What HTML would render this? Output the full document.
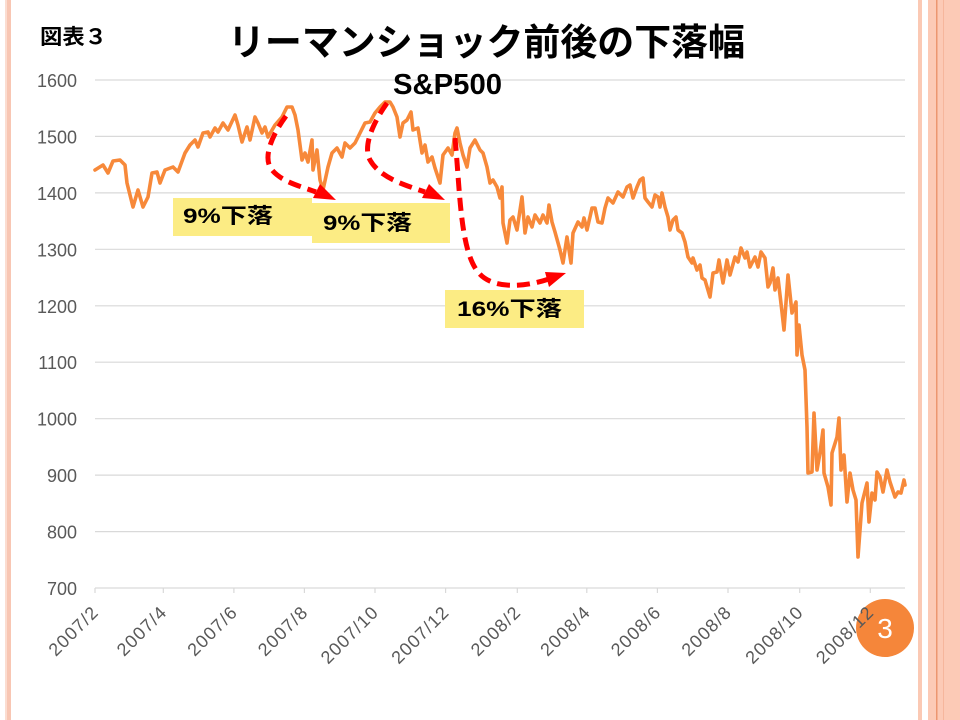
<!DOCTYPE html>
<html>
<head>
<meta charset="utf-8">
<style>
html,body{margin:0;padding:0;background:#fff;}
svg{display:block;}
</style>
</head>
<body>
<svg width="960" height="720" viewBox="0 0 960 720" xmlns="http://www.w3.org/2000/svg">
<rect x="0" y="0" width="960" height="720" fill="#ffffff"/>
<!-- left border -->
<rect x="5" y="0" width="2" height="720" fill="#FBDDD1"/>
<rect x="7" y="0" width="4" height="720" fill="#F8C6B3"/>
<!-- right decoration -->
<rect x="918" y="0" width="4" height="720" fill="#FBC9B4"/>
<rect x="928" y="0" width="32" height="720" fill="#FCCAB6"/>
<rect x="936" y="0" width="1.5" height="720" fill="#EC9670"/>
<rect x="943" y="0" width="1" height="720" fill="#F6B69C"/>

<!-- titles -->
<text x="40" y="44" font-family="'Liberation Sans','Noto Sans CJK JP',sans-serif" font-size="21" font-weight="bold" fill="#000" textLength="67" lengthAdjust="spacingAndGlyphs">図表３</text>
<text x="228" y="55" font-family="'Liberation Sans','Noto Sans CJK JP',sans-serif" font-size="37" font-weight="bold" fill="#000" textLength="517" lengthAdjust="spacingAndGlyphs">リーマンショック前後の下落幅</text>

<!-- grid -->
<g stroke="#D9D9D9" stroke-width="1.2">
<line x1="95" y1="80" x2="905" y2="80"/>
<line x1="95" y1="136.4" x2="905" y2="136.4"/>
<line x1="95" y1="192.9" x2="905" y2="192.9"/>
<line x1="95" y1="249.3" x2="905" y2="249.3"/>
<line x1="95" y1="305.8" x2="905" y2="305.8"/>
<line x1="95" y1="362.2" x2="905" y2="362.2"/>
<line x1="95" y1="418.7" x2="905" y2="418.7"/>
<line x1="95" y1="475.1" x2="905" y2="475.1"/>
<line x1="95" y1="531.6" x2="905" y2="531.6"/>
<line x1="95" y1="588" x2="905" y2="588"/>
<line x1="95" y1="588" x2="95" y2="593"/>
<line x1="163.3" y1="588" x2="163.3" y2="593"/>
<line x1="233.9" y1="588" x2="233.9" y2="593"/>
<line x1="304.4" y1="588" x2="304.4" y2="593"/>
<line x1="375" y1="588" x2="375" y2="593"/>
<line x1="445.6" y1="588" x2="445.6" y2="593"/>
<line x1="517.3" y1="588" x2="517.3" y2="593"/>
<line x1="586.8" y1="588" x2="586.8" y2="593"/>
<line x1="657.4" y1="588" x2="657.4" y2="593"/>
<line x1="728" y1="588" x2="728" y2="593"/>
<line x1="799.7" y1="588" x2="799.7" y2="593"/>
<line x1="870.3" y1="588" x2="870.3" y2="593"/>
</g>

<!-- page number (under labels) -->
<circle cx="885" cy="628" r="29" fill="#F5863A"/>
<text x="885" y="638" text-anchor="middle" font-family="'Liberation Sans',sans-serif" font-size="28" fill="#ffffff">3</text>

<!-- y labels -->
<g font-family="'Liberation Sans',sans-serif" font-size="18" fill="#595959" text-anchor="end">
<text x="77" y="87">1600</text>
<text x="77" y="143.4">1500</text>
<text x="77" y="199.9">1400</text>
<text x="77" y="256.3">1300</text>
<text x="77" y="312.8">1200</text>
<text x="77" y="369.2">1100</text>
<text x="77" y="425.7">1000</text>
<text x="77" y="482.1">900</text>
<text x="77" y="538.6">800</text>
<text x="77" y="595">700</text>
</g>

<!-- x labels -->
<g font-family="'Liberation Sans',sans-serif" font-size="18" fill="#595959" text-anchor="end">
<text transform="translate(99,614) rotate(-45)" textLength="61" lengthAdjust="spacing">2007/2</text>
<text transform="translate(167.3,614) rotate(-45)" textLength="61" lengthAdjust="spacing">2007/4</text>
<text transform="translate(237.9,614) rotate(-45)" textLength="61" lengthAdjust="spacing">2007/6</text>
<text transform="translate(308.4,614) rotate(-45)" textLength="61" lengthAdjust="spacing">2007/8</text>
<text transform="translate(379,614) rotate(-45)" textLength="72" lengthAdjust="spacing">2007/10</text>
<text transform="translate(449.6,614) rotate(-45)" textLength="72" lengthAdjust="spacing">2007/12</text>
<text transform="translate(521.3,614) rotate(-45)" textLength="61" lengthAdjust="spacing">2008/2</text>
<text transform="translate(590.8,614) rotate(-45)" textLength="61" lengthAdjust="spacing">2008/4</text>
<text transform="translate(661.4,614) rotate(-45)" textLength="61" lengthAdjust="spacing">2008/6</text>
<text transform="translate(732,614) rotate(-45)" textLength="61" lengthAdjust="spacing">2008/8</text>
<text transform="translate(803.7,614) rotate(-45)" textLength="72" lengthAdjust="spacing">2008/10</text>
<text transform="translate(874.3,614) rotate(-45)" textLength="72" lengthAdjust="spacing">2008/12</text>
</g>

<!-- series -->
<polyline fill="none" stroke="#F7893A" stroke-width="3.6" stroke-linejoin="round" stroke-linecap="round" points="
95,170 103,165 108,173 113,161 120,160 125,165 127,183 133,207 138,190 143,207 148,197 152,173 157,172 160,183 165,170 173,167 178,172 185,153 190,145 195,140 198,147 203,133 208,132 210,137 215,128 218,132 223,123 228,130 235,115 238,125 242,142 247,127 250,140 255,117 258,123 262,133 265,127 268,137 275,125 282,117 287,107 292,107 295,115 298,130 302,160 305,153 308,162 312,140 313,170 317,150 320,180 323,190 328,167 332,153 337,148 342,157 345,143 350,148 355,143 360,133
365,123 370,122 375,113 380,107 385,102 390,102 393,107 397,117 400,137 403,123 407,120 411,112 413,130 418,128 422,153 425,145 428,162 432,157 435,168 440,183 443,155 448,148 452,155 455,133 457,128 460,143 463,155 467,167 470,148 475,140 480,150 483,153 487,167 490,183 493,180 497,187 500,198 502,187 503,223 507,243 510,220 513,217 517,230 522,197 525,233 528,217 532,227 535,215 540,223 543,215 547,223 549,205 552,222 555,232 560,250 563,263 567,237 571,263 573,233 578,222 582,227 584,218 587,230 592,208 595,208 598,222 602,223 605,208 608,198 613,203 618,192 623,197 627,187 630,185 633,198 637,187 640,180
643,178 645,198 648,202 652,207 655,195 658,197 660,207 662,193 665,207 668,217 670,230 673,220 676,217 678,230 682,233 685,242 688,257 692,263 693,258 697,270 700,265 702,278 705,280 710,297 713,273 717,272 719,260 723,283 727,260 730,275 735,257 738,262 741,248 745,258 747,252 750,267 755,257 758,267 761,252 765,258 768,287 770,283 773,268 775,290 778,278 782,312 784,330 788,275 792,313 796,302 797,355 799,325 802,355 805,370 807,427 808,473 812,472 814,413 817,470 820,453 823,430 824,473 828,487 831,505 832,453 837,437 839,418 841,470 844,455 847,502 850,473 853,490 856,500 858,557 862,503 867,483 869,522 872,493 875,500 877,472 880,477 883,492 887,470 890,482 895,497 898,492 901,493 904,480 905,485"/>

<!-- S&P500 label -->
<text x="393" y="94" font-family="'Liberation Sans',sans-serif" font-size="29" font-weight="bold" fill="#000" textLength="109" lengthAdjust="spacingAndGlyphs">S&amp;P500</text>

<!-- annotation boxes -->
<rect x="173" y="198" width="139" height="38" fill="#FCEC84"/>
<rect x="312" y="203" width="138" height="40" fill="#FCEC84"/>
<rect x="445" y="290" width="139" height="38" fill="#FCEC84"/>
<g font-family="'Liberation Sans','Noto Sans CJK JP',sans-serif" font-size="21" font-weight="bold" fill="#000">
<text x="183" y="223" textLength="90" lengthAdjust="spacingAndGlyphs">9%下落</text>
<text x="323" y="230" textLength="89" lengthAdjust="spacingAndGlyphs">9%下落</text>
<text x="457" y="316" textLength="105" lengthAdjust="spacingAndGlyphs">16%下落</text>
</g>

<!-- arrows -->
<g fill="none" stroke="#FF0000" stroke-width="5" stroke-dasharray="13,7">
<path d="M286,116 C272,135 262,158 272,170 C282,182 300,186 316,192"/>
<path d="M387,103 C375,120 362,145 370,160 C380,178 405,185 425,192"/>
<path d="M455,138 C460,190 460,250 478,272 C492,290 525,287 549,279"/>
</g>
<g fill="#FF0000">
<polygon points="336,200 313,198 320,184"/>
<polygon points="445,200 422,198 429,184"/>
<polygon points="566,273 549,287 545,272"/>
</g>
</svg>
</body>
</html>
